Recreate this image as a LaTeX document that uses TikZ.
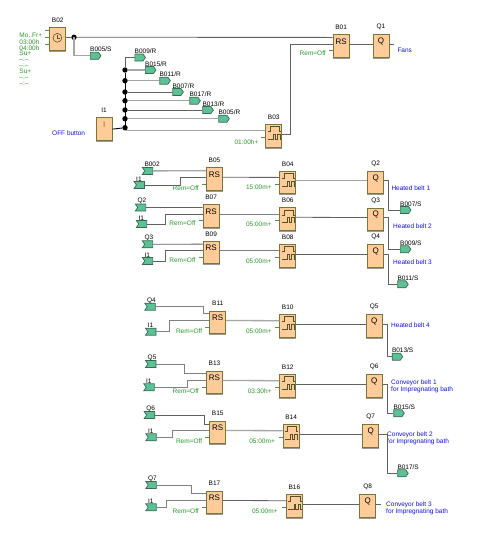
\documentclass[tikz,border=0pt]{standalone}
\usepackage{fontspec}
\setmainfont{Liberation Sans}
\usetikzlibrary{shapes.symbols}
\definecolor{blkfill}{HTML}{FFCC99}
\definecolor{blkedge}{HTML}{77773A}
\definecolor{sigfill}{HTML}{5CC296}
\definecolor{sigedge}{HTML}{3A6A55}
\definecolor{grn}{HTML}{2C962C}
\definecolor{blu}{HTML}{1010F0}
\tikzset{
  blk/.style={draw=blkedge,fill=blkfill,line width=0.9pt,anchor=north west,minimum width=16pt,minimum height=22.7pt,inner sep=0pt},
  txt/.style={font=\fontsize{6.5}{6.5}\selectfont,inner sep=0pt,text=black},
  blue/.style={txt,text=blu,anchor=west,align=left},
  par/.style={txt,text=grn,anchor=east},
  parl/.style={txt,text=grn,anchor=west},
  sym/.style={font=\fontsize{8}{8}\selectfont,inner sep=0pt},
  sigo/.style={shape=signal,signal to=east,signal from=nowhere,draw=sigedge,fill=sigfill,line width=0.7pt,minimum width=10.6pt,minimum height=7pt,inner sep=0pt,signal pointer angle=110},
  sigi/.style={shape=signal,signal to=nowhere,signal from=west,draw=sigedge,fill=sigfill,line width=0.7pt,minimum width=10.6pt,minimum height=7pt,inner sep=0pt,signal pointer angle=110},
  wa/.style={draw=black!62,line width=0.8pt},
  wb/.style={draw=black!35,line width=1.3pt},
  wc/.style={draw=black!50,line width=1pt},
  wk/.style={draw=black,line width=0.9pt},
  tick/.style={draw=black!35!green!30!gray,line width=0.7pt},
  dot/.style={circle,fill=black,inner sep=0pt,minimum size=5.4pt},
  wave/.style={draw=blkedge!70!black,line width=0.8pt},
}
% block with label: name, x, y(top), title, symbol
\newcommand\fblk[5]{%
  \node[blk] (#1) at (#2,#3) {};
  \draw[draw=black!40,line width=0.8pt] ([yshift=-0.4pt]#1.south west) -- ([yshift=-0.4pt]#1.south east);
  \node[txt] (#1-t) at ([yshift=6.8pt]#1.north) {#4};
  \node[sym] (#1-c) at ([yshift=-7.4pt]#1.north) {#5};
  \coordinate (#1-s) at ([yshift=-3.4pt]#1.north west);
  \coordinate (#1-r) at ([yshift=-10pt]#1.north west);
  \coordinate (#1-o) at ([yshift=-10pt]#1.north east);
  \coordinate (#1-i) at ([yshift=-6.7pt]#1.north west);
  \coordinate (#1-e) at ([yshift=-6.7pt]#1.north east);
}
\newcommand\rsb[4]{\fblk{#1}{#2}{#3}{#4}{RS}%
  \draw[tick] ([yshift=-16.7pt]#1.north west) -- ++(-4,0);}
\newcommand\qb[4]{\fblk{#1}{#2}{#3}{#4}{Q}}
\newcommand\tmb[4]{\fblk{#1}{#2}{#3}{#4}{}%
  \draw[tick] ([yshift=-13.4pt]#1.north west) -- ++(-4,0);
  \draw[wave] ([shift={(2.5pt,-7.7pt)}]#1.north west) -- ++(2.2,0) -- ++(0,-5) -- ++(9.3,0) -- ++(0,5) -- ++(1.7,0);
  \draw[wave] ([shift={(2.5pt,-15.3pt)}]#1.north west) -- ++(5.5,0) -- ++(0,-5) -- ++(1.7,0) -- ++(0,5) -- ++(2.3,0) -- ++(0,-5) -- ++(2.7,0) -- ++(0,5) -- ++(.8,0);}
% signal: name, left x, centre y, text, style
\newcommand\sg[5]{%
  \node[#5,anchor=west] (#1) at (#2,#3) {};
  \node[txt,anchor=west] (#1-t) at (#2,#3-6.2) {#4};}
% wire: style, from, bend x, to
\newcommand\wire[4]{\draw[#1] (#2) -| (#4 -| #3,0) -- (#4);}
\begin{document}
\begin{tikzpicture}[x=1pt,y=-1pt]
\useasboundingbox (0,0) rectangle (484,544);
\fill[white] (0,0) rectangle (484,544);

% --- top part ---
\fblk{b02}{49.3}{27.3}{B02}{}
\draw[draw=blkedge!70!black,line width=0.6pt] (57.4,37.8) circle (4.4);
\draw[draw=blkedge!70!black,line width=0.6pt] (57.4,34.5) -- (57.4,37.8) -- (59.8,37.8);
\foreach \yy in {30.7,37.3,44}{\draw[tick] (49.3,\yy) -- (45.3,\yy);}
\foreach \yy/\tt/\nn in {35.7/Mo..Fr+/a,41.7/03:00h/b,47.7/04:00h/c,53.7/Su+/d,59.7/--:--/e,65.7/--:--/f,71.7/Su+/g,77.7/--:--/h,83.7/--:--/i}{
  \node[parl] (p\nn) at (19.3,\yy) {\tt};}
\fblk{i1m}{95.7}{117.3}{I1}{\textcolor{blkedge}{I}}
\node[blue] (off) at (52,133.3) {OFF button};
\rsb{b01}{332.7}{34}{B01}
\qb{q1}{372.5}{34}{Q1}
\tmb{b03}{265.3}{124}{B03}
\node[par] (p01) at (258.5,142) {01:00h+};
\node[par] (prem) at (326,53.5) {Rem=Off};
\node[blue] (fans) at (397.3,50.3) {Fans};
\coordinate (q1x) at ([xshift=5pt]q1-o);

\node[dot] (j0) at (74,37.3) {};
\sg{s1}{90}{55.8}{B005/S}{sigo}
\sg{s2}{134.5}{57.5}{B009/R}{sigo}
\sg{s3}{145}{70}{B015/R}{sigo}
\sg{s4}{159.4}{80.7}{B011/R}{sigo}
\sg{s5}{172.4}{92}{B007/R}{sigo}
\sg{s6}{189.4}{100.7}{B017/R}{sigo}
\sg{s7}{202.4}{110}{B013/R}{sigo}
\sg{s8}{218.4}{118.7}{B005/R}{sigo}
\foreach \nn/\yy in {1/70,2/80.7,3/92,4/100.7,5/110,6/118.7,7/127.7}{\node[dot] (j\nn) at (125,\yy) {};}
\coordinate (jb) at (125,130.7);
\draw[wa] (b02-o) -- (j0);
\draw[wa] (j0) -- (b01-s);
\wire{wb}{j0}{74}{s1.west}
\draw[wa] (s2.west) -| (j1);
\draw[wk] (j1) -- (jb);
\draw[wb] (j1) -- (s3.west);
\draw[wb] (j2) -- (s4.west);
\draw[wa] (j3) -- (s5.west);
\draw[wb] (j4) -- (s6.west);
\draw[wa] (j5) -- (s7.west);
\draw[wb] (j6) -- (s8.west);
\draw[wk] (i1m.east) -- (j7);
\draw[wb] (jb) -- (jb -| b03.west);
\wire{wa}{b03-o}{290}{b01-r}
\draw[wa] (b01-o) -- (q1-r);
\draw[wa] (q1-o) -- (q1x);

% --- row 1 ---
\rsb{b05}{206}{167.3}{B05}
\tmb{b04}{279.3}{170.7}{B04}
\qb{q2}{367.3}{170.7}{Q2}
\sg{a1}{144.3}{170.9}{B002}{sigi}
\sg{a2}{136}{185}{I1}{sigi}
\node[par] (r1) at (199,187.7) {Rem=Off};
\node[par] (t1) at (271.7,187.7) {15:00m+};
\node[blue] (h1) at (391.3,188.3) {Heated belt 1};
\sg{o1}{400}{210}{B007/S}{sigo}
\draw[wb] (a1.east) -- (b05-s);
\wire{wa}{a2.east}{180}{b05-r}
\draw[wa] (b05-o) -- (b04-i);
\draw[wb] (b04-o) -- (q2-r);
\wire{wa}{q2-o}{388.3}{o1.west}

% --- row 2 ---
\rsb{b07}{202.7}{204}{B07}
\tmb{b06}{279.3}{207.3}{B06}
\qb{q3}{367.3}{207.5}{Q3}
\sg{a3}{137.3}{207.5}{Q2}{sigi}
\sg{a4}{138.3}{224}{I1}{sigi}
\node[par] (r2) at (195.7,223.3) {Rem=Off};
\node[par] (t2) at (271.7,224.3) {05:00m+};
\node[blue] (h2) at (393,225.7) {Heated belt 2};
\sg{o2}{400}{249.3}{B009/S}{sigo}
\draw[wa] (a3.east) -- (b07-s);
\wire{wa}{a4.east}{165}{b07-r}
\draw[wc] (b07-o) -- (b06-i);
\draw[wa] (b06-o) -- (q3-r);
\wire{wa}{q3-o}{388.3}{o2.west}

% --- row 3 ---
\rsb{b09}{202.7}{240.7}{B09}
\tmb{b08}{279.3}{244}{B08}
\qb{q4}{367.3}{244}{Q4}
\sg{a5}{144.3}{244.3}{Q3}{sigi}
\sg{a6}{144.3}{261}{I1}{sigi}
\node[par] (r3) at (195.7,260) {Rem=Off};
\node[par] (t3) at (271.7,261.7) {05:00m+};
\node[blue] (h3) at (393,261.7) {Heated belt 3};
\sg{o3}{397.3}{284.3}{B011/S}{sigo}
\draw[wa] (a5.east) -- (b09-s);
\wire{wa}{a6.east}{165}{b09-r}
\draw[wc] (b09-o) -- (b08-i);
\draw[wa] (b08-o) -- (q4-r);
\wire{wa}{q4-o}{388.3}{o3.west}

% --- row 4 ---
\rsb{b11}{209.3}{310.5}{B11}
\tmb{b10}{279.3}{314}{B10}
\qb{q5}{365.7}{314}{Q5}
\sg{a7}{146.8}{306.7}{Q4}{sigi}
\sg{a8}{147.5}{331.7}{I1}{sigi}
\node[par] (r4) at (202.3,330.7) {Rem=Off};
\node[par] (t4) at (271.7,331) {05:00m+};
\node[blue] (h4) at (391,325.3) {Heated belt 4};
\sg{o4}{391.8}{356.7}{B013/S}{sigo}
\wire{wc}{a7.east}{203.3}{b11-s}
\wire{wc}{a8.east}{169.3}{b11-r}
\draw[wb] (b11-o) -- (b10-i);
\draw[wa] (b10-o) -- (q5-r);
\wire{wa}{q5-o}{387}{o4.west}

% --- row 5 ---
\rsb{b13}{206}{370.5}{B13}
\tmb{b12}{279.3}{374}{B12}
\qb{q6}{365.7}{374}{Q6}
\sg{a9}{147.5}{364}{Q5}{sigi}
\sg{a10}{145.8}{387.3}{I1}{sigi}
\node[par] (r5) at (199,390.7) {Rem=Off};
\node[par] (t5) at (271.7,391) {03:30h+};
\node[blue] (h5) at (391,386.3) {Conveyor belt 1\\[-0.2pt]for Impregnating bath};
\sg{o5}{393.4}{413.3}{B015/S}{sigo}
\wire{wc}{a9.east}{184.3}{b13-s}
\wire{wc}{a10.east}{187.3}{b13-r}
\draw[wb] (b13-o) -- (b12-i);
\draw[wa] (b12-o) -- (q6-r);
\wire{wa}{q6-o}{387}{o5.west}

% --- row 6 ---
\rsb{b15}{209.3}{420.5}{B15}
\tmb{b14}{282.7}{424}{B14}
\qb{q7}{362.3}{424}{Q7}
\sg{a11}{146.2}{415}{Q6}{sigi}
\sg{a12}{147.8}{437.3}{I1}{sigi}
\node[par] (r6) at (202.3,440.7) {Rem=Off};
\node[par] (t6) at (275,441.7) {05:00m+};
\node[blue] (h6) at (387,438.3) {Conveyor belt 2\\[-0.2pt]for Impregnating bath};
\sg{o6}{397.3}{473.3}{B017/S}{sigo}
\wire{wa}{a11.east}{204}{b15-s}
\wire{wc}{a12.east}{172.7}{b15-r}
\draw[wb] (b15-o) -- (b14-i);
\draw[wa] (b14-o) -- (q7-r);
\wire{wa}{q7-o}{387}{o6.west}

% --- row 7 ---
\rsb{b17}{206}{490.5}{B17}
\tmb{b16}{285.9}{494}{B16}
\qb{q8}{359.3}{494}{Q8}
\sg{a13}{147.8}{485}{Q7}{sigi}
\sg{a14}{147.8}{507.3}{I1}{sigi}
\node[par] (r7) at (199,511) {Rem=Off};
\node[par] (t7) at (277.7,511) {05:00m+};
\node[blue] (h7) at (386,508.3) {Conveyor belt 3\\[-0.2pt]for Impregnating bath};
\coordinate (q8x) at ([xshift=5pt]q8-o);
\wire{wc}{a13.east}{191.7}{b17-s}
\wire{wc}{a14.east}{166}{b17-r}
\draw[wa] (b17-o) -- (b16-i);
\draw[wa] (b16-o) -- (q8-r);
\draw[wa] (q8-o) -- (q8x);
\end{tikzpicture}
\end{document}
